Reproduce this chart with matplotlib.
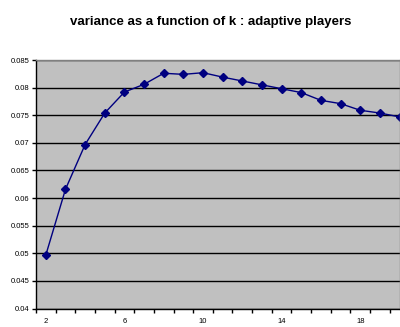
import matplotlib
matplotlib.use("Agg")
import matplotlib.pyplot as plt
from matplotlib.ticker import FixedLocator
from matplotlib import font_manager

k_values = list(range(2, 21))
variance = [0.0497, 0.0616, 0.0697, 0.0754, 0.0792, 0.0806, 0.0826, 0.0824, 0.0827,
            0.0819, 0.0812, 0.0805, 0.0798, 0.0791, 0.0777, 0.0771, 0.0759, 0.0754, 0.0747]
x_tick_labels = [2, 6, 10, 14, 18]
title = "variance as a function of k : adaptive players"

names = {f.name for f in font_manager.fontManager.ttflist}
narrow = "Liberation Sans Narrow" in names
fam = ["Liberation Sans Narrow"] if narrow else ["Liberation Sans"]
plt.rcParams['font.family'] = fam + ["DejaVu Sans"]

W, H = 400, 327
fig = plt.figure(figsize=(W/100, H/100), dpi=100)
left, right, top, bottom = 36, 400, 60, 308.6
ax = fig.add_axes([left/W, 1-bottom/H, (right-left)/W, (bottom-top)/H])
ax.set_facecolor("#C0C0C0")

ax.plot(k_values, variance, color="#000080", lw=1.0, marker="D", ms=4,
        markerfacecolor="#000080", markeredgecolor="#000080", clip_on=True)

ax.set_xlim(1.5, 1.5 + (right-left)/19.65)
ax.set_ylim(0.04, 0.085)
yt = [0.04 + 0.005*i for i in range(10)]
ax.set_yticks(yt)
ax.set_yticklabels(["0.04", "0.045", "0.05", "0.055", "0.06", "0.065", "0.07", "0.075", "0.08", "0.085"])
ax.yaxis.grid(True, color="black", lw=1.0)
ax.set_axisbelow(True)

small = 6 if narrow else 5.5
ax.set_xticks(x_tick_labels)
ax.set_xticklabels([str(v) for v in x_tick_labels])
ax.tick_params(axis="x", which="major", length=0, pad=6.5, labelsize=small)
ax.xaxis.set_minor_locator(FixedLocator([1.5 + i for i in range(20)]))
ax.tick_params(axis="x", which="minor", length=3, width=1, direction="out", color="black")
ax.tick_params(axis="y", length=3, width=1, direction="out", labelsize=small, pad=1.5)

for s in ["top", "right"]:
    ax.spines[s].set_color("#808080")
    ax.spines[s].set_linewidth(1)
for s in ["left", "bottom"]:
    ax.spines[s].set_color("black")
    ax.spines[s].set_linewidth(1)

fig.text(211/W, 1-22/H, title, ha="center", va="center",
         fontsize=12.5 if narrow else 9.5, fontweight="bold")

fig.savefig("out.png", dpi=100)
